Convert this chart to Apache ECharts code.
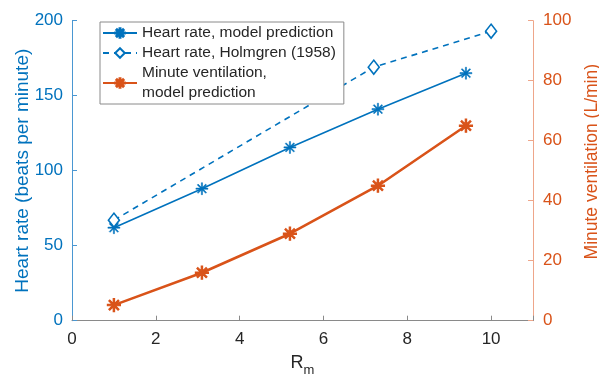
<!DOCTYPE html>
<html>
<head>
<meta charset="utf-8">
<script src="https://cdn.jsdelivr.net/npm/echarts@6/dist/echarts.min.js"></script>
<style>
html,body{margin:0;padding:0;background:#fff;}
#chart{width:599px;height:378px;}
</style>
</head>
<body>
<div id="chart"></div>
<script>
// Data
const rmModel = [1, 3.1, 5.2, 7.3, 9.4];
const hrModel = [62, 88, 115.5, 141, 165];
const rmHolmgren = [1, 7.2, 10];
const hrHolmgren = [67, 169, 193];
const ventModel = [5.2, 16, 29, 45, 65];

const xTicks = [0, 2, 4, 6, 8, 10];
const hrTicks = [0, 50, 100, 150, 200];
const ventTicks = [0, 20, 40, 60, 80, 100];

const BLUE = '#0072BD';
const ORANGE = '#D95319';
const FONT = "'Liberation Sans', Arial, sans-serif";

const STAR = 'path://M9 0L11 0L11 20L9 20Z M0 9L20 9L20 11L0 11Z M2.22 3.64L3.64 2.22L17.78 16.36L16.36 17.78Z M16.36 2.22L17.78 3.64L3.64 17.78L2.22 16.36Z';

function pairs(xs, ys) { return xs.map((x, i) => [x, ys[i]]); }

const chart = echarts.init(document.getElementById('chart'), null, {renderer: 'canvas'});
chart.setOption({
  animation: false,
  backgroundColor: '#fff',
  textStyle: {fontFamily: FONT},
  grid: {left: 72, right: 66, top: 20.7, bottom: 57.3, containLabel: false, outerBoundsMode: 'none'},
  legend: {
    left: 100, top: 22,
    orient: 'vertical',
    backgroundColor: '#fff',
    borderColor: '#8a8a8a', borderWidth: 1, borderRadius: 0,
    padding: [1, 8, 1, 2],
    itemWidth: 34, itemHeight: 12, itemGap: 0,
    textStyle: {fontFamily: FONT, fontSize: 15.5, color: '#262626', lineHeight: 20},
    data: [
      {name: 'Heart rate, model prediction'},
      {name: 'Heart rate, Holmgren (1958)'},
      {name: 'Minute ventilation,\nmodel prediction'}
    ]
  },
  xAxis: {
    type: 'value', min: 0, max: 11, interval: 2,
    name: '{a|R}{b|m}', nameLocation: 'middle', nameGap: 28,
    nameMoveOverlap: false,
    nameTextStyle: {
      rich: {
        a: {fontSize: 18, color: '#262626', fontFamily: FONT},
        b: {fontSize: 13, color: '#262626', fontFamily: FONT, padding: [15, 0, 0, 0]}
      }
    },
    axisLine: {show: true, lineStyle: {color: '#8a8a8a', width: 1}},
    axisTick: {show: true, inside: true, length: 5, lineStyle: {color: '#8a8a8a'}},
    axisLabel: {fontSize: 17, color: '#262626', margin: 10, fontFamily: FONT,
      formatter: v => xTicks.includes(v) ? String(v) : ''},
    splitLine: {show: false}
  },
  yAxis: [
    {
      type: 'value', min: 0, max: 200, interval: 50, position: 'left',
      name: 'Heart rate (beats per minute)', nameLocation: 'middle', nameGap: 40,
      nameMoveOverlap: false,
      nameTextStyle: {fontSize: 19, color: BLUE, fontFamily: FONT},
      axisLine: {show: true, lineStyle: {color: '#4a97d2', width: 1}},
      axisTick: {show: true, inside: true, length: 5, lineStyle: {color: '#4a97d2'}},
      axisLabel: {fontSize: 17, color: BLUE, margin: 9, fontFamily: FONT,
        formatter: v => hrTicks.includes(v) ? String(v) : ''},
      splitLine: {show: false}
    },
    {
      type: 'value', min: 0, max: 100, interval: 20, position: 'right',
      name: 'Minute ventilation (L/min)', nameLocation: 'middle', nameGap: 50,
      nameRotate: 90, nameMoveOverlap: false,
      nameTextStyle: {fontSize: 17.5, color: ORANGE, fontFamily: FONT, padding: [0, 0, 0, 18]},
      axisLine: {show: true, lineStyle: {color: '#eea68a', width: 1}},
      axisTick: {show: true, inside: true, length: 5, lineStyle: {color: '#eea68a'}},
      axisLabel: {fontSize: 17, color: ORANGE, margin: 10, fontFamily: FONT,
        formatter: v => ventTicks.includes(v) ? String(v) : ''},
      splitLine: {show: false}
    }
  ],
  series: [
    {
      name: 'Heart rate, model prediction',
      type: 'line', yAxisIndex: 0,
      data: pairs(rmModel, hrModel),
      symbol: STAR, symbolSize: 12, showSymbol: true,
      lineStyle: {color: BLUE, width: 1.6},
      itemStyle: {color: BLUE, borderColor: BLUE, borderWidth: 0.5}
    },
    {
      name: 'Heart rate, Holmgren (1958)',
      type: 'line', yAxisIndex: 0,
      data: pairs(rmHolmgren, hrHolmgren),
      symbol: 'diamond', symbolSize: [11, 14],
      lineStyle: {color: BLUE, width: 1.6, type: [6, 5]},
      itemStyle: {color: '#fff', borderColor: BLUE, borderWidth: 1.6}
    },
    {
      name: 'Minute ventilation,\nmodel prediction',
      type: 'line', yAxisIndex: 1,
      data: pairs(rmModel, ventModel),
      symbol: STAR, symbolSize: 13,
      lineStyle: {color: ORANGE, width: 2.6},
      itemStyle: {color: ORANGE, borderColor: ORANGE, borderWidth: 1.2}
    }
  ]
});
</script>
</body>
</html>
